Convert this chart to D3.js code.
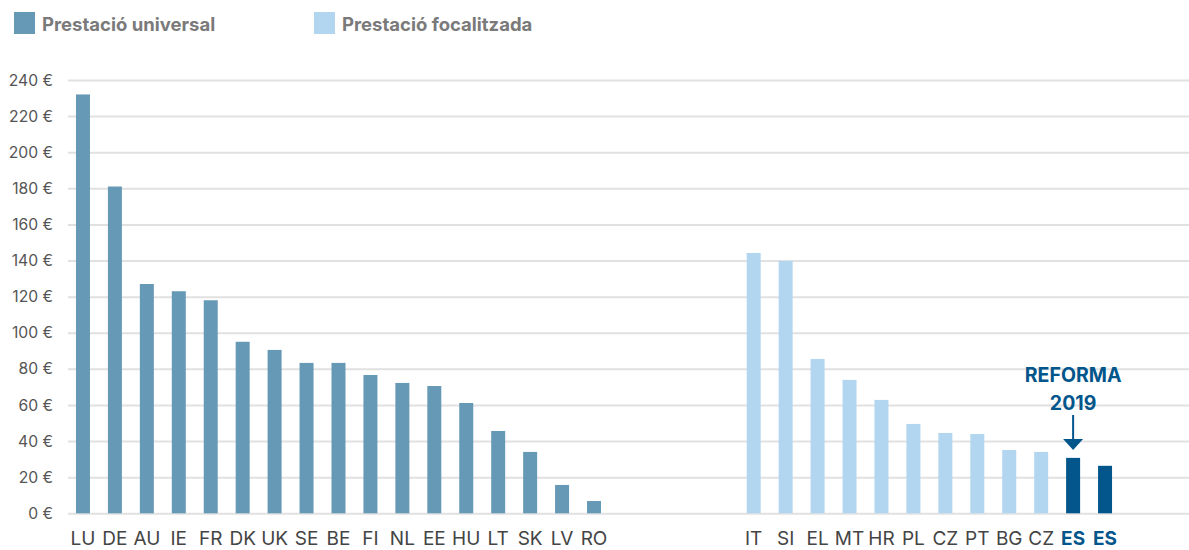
<!DOCTYPE html>
<html>
<head>
<meta charset="utf-8">
<script src="https://cdn.jsdelivr.net/npm/d3@7"></script>
<style>
  html, body { margin: 0; padding: 0; background: #fff; }
  svg { display: block; font-family: Inter, Roboto, sans-serif; }
</style>
</head>
<body>
<svg id="chart" width="1189" height="550"></svg>
<script>
// ---- data ----
const universalCats = ["LU","DE","AU","IE","FR","DK","UK","SE","BE","FI","NL","EE","HU","LT","SK","LV","RO"];
const universalVals = [232,181,127,123,118,95,90.5,83.3,83.3,76.6,72.2,70.5,61.1,45.6,34,15.7,6.8];
const focalCats = ["IT","SI","EL","MT","HR","PL","CZ","PT","BG","CZ","ES","ES"];
const focalVals = [144.2,139.8,85.5,73.9,62.8,49.5,44.5,43.9,35.1,34,30.7,26.3];
const highlighted = [false,false,false,false,false,false,false,false,false,false,true,true];
const gapSlots = 4;
const yTicks = [0,20,40,60,80,100,120,140,160,180,200,220,240];
const legendLabels = ["Prestació universal","Prestació focalitzada"];
const annotationLines = ["REFORMA","2019"];

(function(){
// ---- build rows ----
const rows = [];
universalCats.forEach((c,i) => rows.push({key:"u"+i, cat:c, val:universalVals[i], type:"u"}));
for (let g=0; g<gapSlots; g++) rows.push({key:"g"+g, cat:"", val:null, type:"gap"});
focalCats.forEach((c,i) => rows.push({key:"f"+i, cat:c, val:focalVals[i], type: highlighted[i] ? "h" : "f"}));

const colors = {u:"#6699b5", f:"#b3d6f0", h:"#03568b"};

const svg = d3.select("#chart");
const mLeft = 68, mRight = 1189, mTop = 80, mBottom = 513.3;

const x = d3.scaleBand()
  .domain(rows.map(d => d.key))
  .range([67, 67 + 31.94*rows.length])
  .paddingInner(0.562)
  .paddingOuter(0.281);

const y = d3.scaleLinear().domain([0,240]).range([mBottom, mTop]);

// grid + y axis
const yAxis = d3.axisLeft(y)
  .tickValues(yTicks)
  .tickSize(-(mRight-mLeft))
  .tickPadding(15)
  .tickFormat(d => d + " €");

const gy = svg.append("g").attr("transform", `translate(${mLeft},0)`).call(yAxis);
gy.select(".domain").remove();
gy.selectAll(".tick line").attr("stroke", "#e1e1e1").attr("stroke-width", 2);
gy.selectAll(".tick text").attr("fill", "#555").attr("font-size", 15.7).attr("font-family", "Inter, Roboto, sans-serif");

// bars
const bars = rows.filter(d => d.type !== "gap");
svg.append("g").selectAll("rect").data(bars).join("rect")
  .attr("x", d => x(d.key))
  .attr("width", x.bandwidth())
  .attr("y", d => y(d.val))
  .attr("height", d => y(0) - y(d.val))
  .attr("fill", d => colors[d.type]);

// x labels
svg.append("g").selectAll("text").data(bars).join("text")
  .attr("x", d => x(d.key) + x.bandwidth()/2)
  .attr("y", 545)
  .attr("text-anchor", "middle")
  .attr("font-size", 19)
  .attr("font-weight", d => d.type === "h" ? 700 : 400)
  .attr("fill", d => d.type === "h" ? colors.h : "#444")
  .text(d => d.cat);

// legend
const legendX = [14, 314];
const legendColors = [colors.u, colors.f];
legendLabels.forEach((lab,i) => {
  svg.append("rect").attr("x", legendX[i]).attr("y", 12).attr("width", 21).attr("height", 22)
    .attr("fill", legendColors[i]);
  svg.append("text").attr("x", legendX[i] + 28).attr("y", 30.5)
    .attr("font-size", 18.5).attr("font-weight", 700).attr("fill", "#7a7a7a")
    .text(lab);
});

// annotation
const esKey = rows.find(d => d.type === "h").key;
const ax = x(esKey) + x.bandwidth()/2;
const ann = svg.append("g").attr("fill", colors.h).attr("font-weight", 700).attr("font-size", 19.5).attr("text-anchor","middle");
annotationLines.forEach((t,i) => ann.append("text").attr("x", ax).attr("y", 382 + i*28).text(t));
svg.append("line").attr("x1", ax).attr("x2", ax).attr("y1", 415).attr("y2", 440)
  .attr("stroke", colors.h).attr("stroke-width", 2);
svg.append("path").attr("d", `M${ax-10},439 L${ax+10},439 L${ax},450 Z`).attr("fill", colors.h);
})();
</script>
</body>
</html>
